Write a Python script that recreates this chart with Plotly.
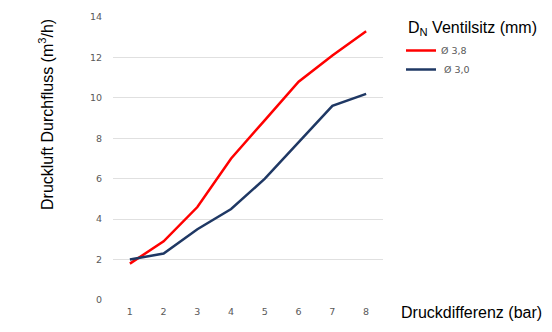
import plotly.graph_objects as go

x_vals = [1, 2, 3, 4, 5, 6, 7, 8]
series_38 = [1.8, 2.9, 4.6, 7.0, 8.9, 10.8, 12.1, 13.3]
series_30 = [2.0, 2.3, 3.5, 4.5, 6.0, 7.8, 9.6, 10.2]
names = ["Ø 3,8", " Ø 3,0"]
y_ticks = [0, 2, 4, 6, 8, 10, 12, 14]

# page body has an 8px default margin; work in window pixels
OFF = 8
W, H = 552 - OFF, 332 - OFF
L, R, T, B = 113 - OFF, 169, 17 - OFF, 32
pw, ph = W - L - R, H - T - B

def px_x(p):
    return (p - OFF - L) / pw

def px_y(p):
    return (H - B - (p - OFF)) / ph

fig = go.Figure()
fig.add_trace(go.Scatter(x=x_vals, y=series_38, name=names[0], mode="lines",
                         line=dict(color="#FF0000", width=2.5)))
fig.add_trace(go.Scatter(x=x_vals, y=series_30, name=names[1], mode="lines",
                         line=dict(color="#1F3864", width=2.5)))

tickfont = dict(family="DejaVu Sans, Verdana, sans-serif", size=9.5, color="#595959")
fig.update_layout(
    width=W, height=H,
    margin=dict(l=L, r=R, t=T, b=B, autoexpand=False),
    paper_bgcolor="white", plot_bgcolor="white",
    font=dict(family="Liberation Sans, Arial, sans-serif", color="black"),
    xaxis=dict(range=[0.5, 8.5], tickvals=x_vals, showgrid=False, zeroline=False,
               showline=False, tickfont=tickfont, ticks="", ticklabelstandoff=4),
    yaxis=dict(range=[0, 14], tickvals=y_ticks, showgrid=True, gridcolor="#E0E0E0",
               gridwidth=1, zeroline=False, showline=False, tickfont=tickfont,
               ticks="", ticklabelstandoff=10),
    legend=dict(x=px_x(401), y=px_y(36), xanchor="left", yanchor="top",
                font=dict(family="DejaVu Sans, Verdana, sans-serif", size=9.5, color="#595959"),
                bgcolor="rgba(0,0,0,0)", itemwidth=30),
    annotations=[
        dict(text="D<sub>N</sub> Ventilsitz (mm)", xref="paper", yref="paper",
             x=px_x(406), y=px_y(28), xanchor="left", yanchor="middle",
             showarrow=False, font=dict(size=16, color="black")),
        dict(text="Druckdifferenz (bar)", xref="paper", yref="paper",
             x=px_x(399), y=px_y(312), xanchor="left", yanchor="middle",
             showarrow=False, font=dict(size=16, color="black")),
        dict(text="Druckluft Durchfluss (m<sup>3</sup>/h)", xref="paper", yref="paper",
             x=px_x(46), y=px_y(115), xanchor="center", yanchor="middle", textangle=-90,
             showarrow=False, font=dict(size=16, color="black")),
    ],
)
fig.write_html("out.html")
